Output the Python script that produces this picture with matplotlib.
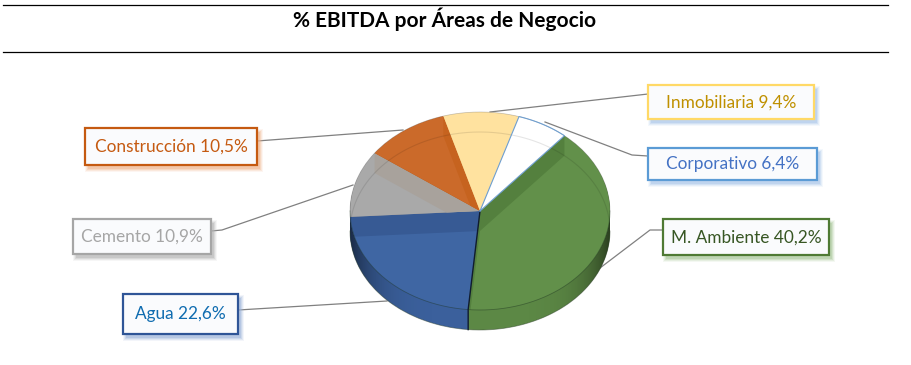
import numpy as np
import matplotlib
matplotlib.use('Agg')
import matplotlib.pyplot as plt
from matplotlib.patches import Rectangle, Polygon

names = ['M. Ambiente', 'Agua', 'Cemento', 'Construcción', 'Inmobiliaria', 'Corporativo']
values = [40.2, 22.6, 10.9, 10.5, 9.4, 6.4]

top_colors = ['#62904a', '#3f66a3', '#a9a9a9', '#cb6a2a', '#ffe29f', '#ffffff']
band_colors = ['#54803e', '#375a94', '#a8a29c', '#c6631f', '#ffe29f', '#ffffff']
wall_colors = ['#5c8845', '#3b609c', '#8f8f8f', '#a85820', '#d8bd80', '#dddddd']
text_colors = ['#375623', '#0f6cb0', '#a6a6a6', '#c55a11', '#bf9000', '#4472c4']
box_colors = ['#4f7a34', '#2f5597', '#a6a6a6', '#c55a11', '#ffd966', '#5b9bd5']
shadow_colors = ['#a9c79a', '#9db4da', '#b5b5b5', '#f0b48c', '#a9c6ea', '#a9c6ea']

# label boxes in pixels: left, top, right, bottom
boxes = [(663, 219, 829, 255), (123, 294, 238, 334), (73, 219, 211, 254),
         (85, 128, 257, 165), (648, 85, 814, 119), (648, 148, 817, 180)]
leaders = [[(663, 230), (650, 230), (600, 268)],
           [(238, 310), (387, 301)],
           [(211, 231), (222, 230), (353, 185)],
           [(257, 141), (403, 130)],
           [(648, 94), (490, 112)],
           [(648, 156), (632, 155), (545, 122)]]

W, H = 912, 365
cx, cy, rx, ry, depth = 480, 211, 130, 99, 20
start = 49.5

plt.rcParams['font.family'] = ['Lato', 'DejaVu Sans']
fig = plt.figure(figsize=(W / 100, H / 100), dpi=100, facecolor='white')

# pie axes: x and y run in pie radii, so the circle comes out squashed
margin = 4
pie_ax = fig.add_axes([(cx - rx - margin) / W, 1 - (cy + ry + depth + margin) / H,
                       (2 * rx + 2 * margin) / W, (2 * ry + depth + 2 * margin) / H], zorder=2)
shift = depth / ry

# side wall, stacked from the bottom up
for d in np.linspace(shift, 0.01, depth + 1):
    pie_ax.pie(values, colors=wall_colors, startangle=start, counterclock=False,
               center=(0, -d), radius=1)

# wall gets darker toward both sides
t2 = np.linspace(np.pi, 2 * np.pi, 200)
wall = Polygon(np.vstack([np.c_[np.cos(t2), np.sin(t2) - shift],
                          np.c_[np.cos(t2[::-1]), np.sin(t2[::-1])]]),
               facecolor='none', edgecolor='none')
pie_ax.add_patch(wall)
xg = np.linspace(-1, 1, 256)
shade = np.zeros((1, 256, 4))
shade[0, :, 3] = 0.55 * np.abs(xg) ** 5
img = pie_ax.imshow(shade, extent=(-1, 1, -1 - shift, 0), aspect='auto', zorder=1)
img.set_clip_path(wall)

tops, _ = pie_ax.pie(values, colors=top_colors, startangle=start, counterclock=False,
                     center=(0, 0), radius=1)

# inner walls seen through the top face
edges = start - np.cumsum([0] + values) * 3.6
for i, wedge in enumerate(tops):
    for ang in (edges[i], edges[i + 1]):
        px, py = np.cos(np.radians(ang)), np.sin(np.radians(ang))
        band = Polygon([(0, 0), (px, py), (px, py - shift), (0, -shift)],
                       facecolor=band_colors[i], edgecolor='none')
        pie_ax.add_patch(band)
        band.set_clip_path(wedge)

# faint rim of the lower face on the top surface, then the outer outlines
t = np.linspace(0, np.pi, 300)
rim, = pie_ax.plot(np.cos(t), np.sin(t) - shift, color='#000000', alpha=0.1, lw=0.8)
rim.set_clip_path(plt.Circle((0, 0), 1, transform=pie_ax.transData))
pie_ax.plot(np.cos(t2), np.sin(t2) - shift, color='#2d3f2a', alpha=0.5, lw=0.6)
pie_ax.plot(np.cos(t2), np.sin(t2), color='#1d3320', alpha=0.45, lw=0.6)
pie_ax.plot(np.cos(t), np.sin(t), color='#3a3a3a', alpha=0.3, lw=0.5)

# black seam between the two big slices
seam = np.radians(edges[1])
pie_ax.plot([0, np.cos(seam), np.cos(seam)], [0, np.sin(seam), np.sin(seam) - shift],
            color='#101c2e', lw=1.0)
# thin blue outline of the white slice
arc = np.radians(np.linspace(edges[5], edges[6], 40))
pie_ax.plot(np.r_[0, np.cos(arc), 0], np.r_[0, np.sin(arc), 0], color='#6f9fd0', lw=0.8)

pie_ax.set_aspect('auto')
pie_ax.set_xlim(-1 - margin / rx, 1 + margin / rx)
pie_ax.set_ylim(-1 - shift - margin / ry, 1 + margin / ry)
pie_ax.axis('off')

# overlay in pixel coordinates for title, rules, leaders and boxes
ax = fig.add_axes([0, 0, 1, 1], zorder=1)
ax.set_xlim(0, W)
ax.set_ylim(H, 0)
ax.axis('off')
over = fig.add_axes([0, 0, 1, 1], zorder=3)
over.set_xlim(0, W)
over.set_ylim(H, 0)
over.axis('off')
over.patch.set_alpha(0)

ax.plot([3, 888], [4.5, 4.5], color='black', lw=0.9)
ax.plot([3, 888], [51.8, 51.8], color='black', lw=0.9)
ax.text(445, 19, '% EBITDA por Áreas de Negocio', ha='center', va='center',
        fontsize=15, fontweight='bold', color='black')

for pts in leaders:
    xs, ys = zip(*pts)
    ax.plot(xs, ys, color='#808080', lw=0.9)

for i, (l, t_, r, b) in enumerate(boxes):
    for grow, a in ((3, 0.12), (2, 0.2), (1, 0.3), (0, 0.45)):
        over.add_patch(Rectangle((l + 3 - grow, t_ + 4 - grow), r - l + 2 * grow, b - t_ + 2 * grow,
                                 facecolor=shadow_colors[i], edgecolor='none', alpha=a))
    over.add_patch(Rectangle((l, t_), r - l, b - t_, facecolor='#fafbfd',
                             edgecolor=box_colors[i], lw=1.6))
    label = f"{names[i]} {values[i]:.1f}%".replace('.', ',').replace('M, ', 'M. ')
    over.text((l + r) / 2, (t_ + b) / 2 + 0.5, label, ha='center', va='center',
              fontsize=12.4, color=text_colors[i])

fig.savefig('out.png', dpi=100)
